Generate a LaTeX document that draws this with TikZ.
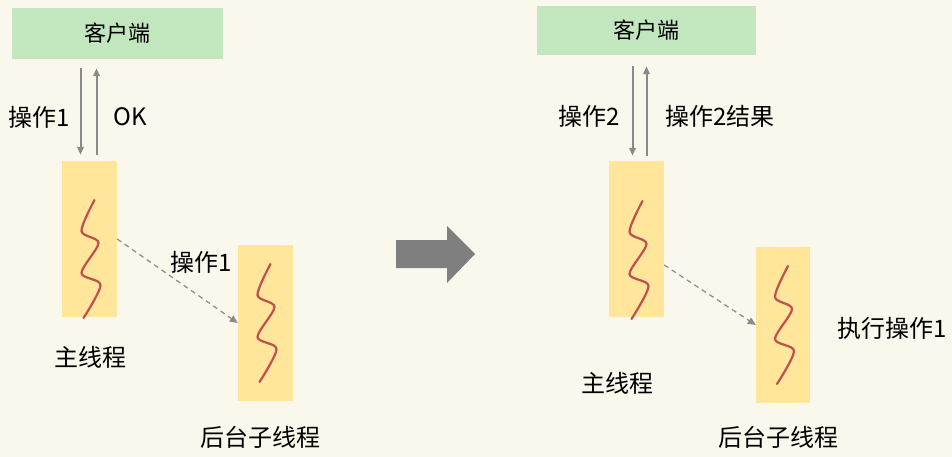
\documentclass[tikz,border=0pt]{standalone}
\usepackage{fontspec}
\setmainfont{Noto Sans CJK SC}
\usetikzlibrary{arrows.meta}

\definecolor{paper}{HTML}{FAF7EC}
\definecolor{clientgreen}{HTML}{C2E6BE}
\definecolor{threadyellow}{HTML}{FFE69A}
\definecolor{wavered}{HTML}{C0504D}
\definecolor{arrowgray}{HTML}{8A8A8A}
\definecolor{biggray}{HTML}{7F7F7F}

\begin{document}
\begin{tikzpicture}[
    x=1pt, y=-1pt,
    client/.style={fill=clientgreen, minimum width=211pt, minimum height=51pt,
                   inner sep=0pt, font=\fontsize{22}{26}\selectfont},
    thread/.style={fill=threadyellow, minimum width=55pt, minimum height=156pt,
                   inner sep=0pt},
    txt/.style={font=\fontsize{24}{28}\selectfont, inner sep=1pt},
    call/.style={-{Triangle[length=8pt,width=6.5pt]}, line width=2pt, draw=arrowgray},
    handoff/.style={-{Triangle[length=8pt,width=7pt]}, line width=1.2pt, draw=arrowgray,
                    dash pattern=on 5pt off 4pt},
    squiggle/.pic={
        \draw[line width=2.2pt, draw=wavered, line cap=round]
            plot[smooth] coordinates {(0,0) (-13,31) (4,43) (-13,73) (6,85) (-11,118)};
    }
]
\useasboundingbox (0,0) rectangle (952,457);
\fill[paper] (0,0) rectangle (952,457);

% --- before ---
\node[client] (cli1)  at (117.5,33.5) {客户端};
\node[thread] (main1) at (89.5,239)   {};
\node[thread] (bg1)   at (265.5,323)  {};
\pic at ([shift={(5,-39)}]main1.center) {squiggle};
\pic at ([shift={(5,-59)}]bg1.center)   {squiggle};

\draw[call, shorten <=9pt, shorten >=6pt]
    ([xshift=-9pt]main1.north |- cli1.south) -- node[pos=0.57, txt, left=9pt]{操作1}
    ([xshift=-9pt]main1.north);
\draw[call, shorten <=6pt, shorten >=9pt]
    ([xshift=7pt]main1.north) -- node[pos=0.43, txt, right=15pt]{OK}
    ([xshift=7pt]main1.north |- cli1.south);
\draw[handoff] (main1.east) -- node[pos=0.43, anchor=south west, txt]{操作1} (bg1.west);

\node[txt] (mainlbl1) at (90,357)  {主线程};
\node[txt] (bglbl1)   at (260,437) {后台子线程};

% --- big arrow ---
\fill[biggray] (396,240) -- (447,240) -- (447,226) -- (475,254) -- (447,283)
    -- (447,268) -- (396,268) -- cycle;

% --- after ---
\node[client, minimum width=219pt, minimum height=49pt] (cli2) at (646.5,30.5) {客户端};
\node[thread] (main2) at (636.5,239) {};
\node[thread, minimum width=54pt] (bg2) at (783,325) {};
\pic at ([shift={(6,-38)}]main2.center) {squiggle};
\pic at ([shift={(5,-59)}]bg2.center)   {squiggle};

\draw[call, shorten <=11pt, shorten >=5pt]
    ([xshift=-4pt]main2.north |- cli2.south) -- node[pos=0.58, txt, left=11pt]{操作2}
    ([xshift=-4pt]main2.north);
\draw[call, shorten <=5pt, shorten >=11pt]
    ([xshift=10pt]main2.north) -- node[pos=0.42, txt, right=17pt]{操作2结果}
    ([xshift=10pt]main2.north |- cli2.south);
\draw[handoff] ([yshift=-26pt]main2.east) -- (bg2.west);

\node[txt] (mainlbl2) at (617,383) {主线程};
\node[txt] (bglbl2)   at (778,437) {后台子线程};
\node[txt] (runlbl)   at (892,328) {执行操作1};

\end{tikzpicture}
\end{document}
